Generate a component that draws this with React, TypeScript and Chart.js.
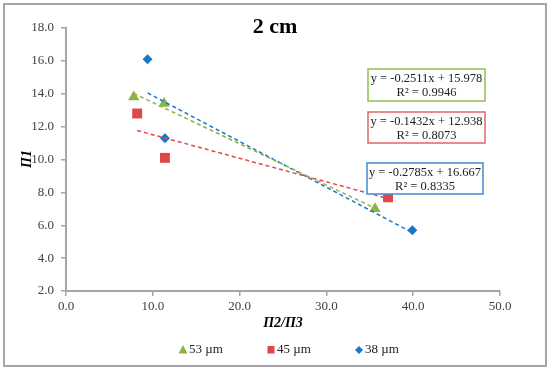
import React, { useEffect, useRef } from "react";
import { Chart, registerables } from "chart.js";

Chart.register(...registerables);

const seriesNames = ["53 µm", "45 µm", "38 µm"];
const x53 = [7.8, 11.3, 35.6];
const y53 = [13.8, 13.4, 7.0];
const x45 = [8.2, 11.4, 37.1];
const y45 = [12.8, 10.1, 7.7];
const x38 = [9.4, 11.4, 39.9];
const y38 = [16.1, 11.3, 5.7];
const slopes = [-0.2511, -0.1432, -0.2785];
const intercepts = [15.978, 12.938, 16.667];
const eqLabels = ["y = -0.2511x + 15.978", "y = -0.1432x + 12.938", "y = -0.2785x + 16.667"];
const r2Labels = ["R² = 0.9946", "R² = 0.8073", "R² = 0.8335"];
const xTicks = [0, 10, 20, 30, 40, 50];
const yTicks = [2, 4, 6, 8, 10, 12, 14, 16, 18];

const colors = ["#8ab545", "#e04848", "#1c75c8"];
const boxColors = ["#92c050", "#e06666", "#3c8dd4"];
const pointStyles = ["triangle", "rect", "rectRot"];
const radii = [6.5, 7, 5];

const SERIF = "'Liberation Serif', 'DejaVu Serif', serif";

export default function App() {
  const ref = useRef<HTMLCanvasElement | null>(null);
  useEffect(() => {
    const xs = [x53, x45, x38];
    const ys = [y53, y45, y38];
    const scatterSets = xs.map((xv, i) => ({
      type: "scatter" as const,
      label: seriesNames[i],
      data: xv.map((x, j) => ({ x, y: ys[i][j] })),
      pointStyle: pointStyles[i],
      pointRadius: radii[i],
      pointHoverRadius: radii[i],
      backgroundColor: colors[i],
      borderColor: colors[i],
      borderWidth: 0,
      order: 2,
    }));
    const trendSets = xs.map((xv, i) => {
      const lo = Math.min(...xv);
      const hi = Math.max(...xv);
      return {
        type: "line" as const,
        label: "trend" + i,
        data: [lo, hi].map((x) => ({ x, y: slopes[i] * x + intercepts[i] })),
        borderColor: colors[i],
        borderWidth: 1.5,
        borderDash: [4, 3],
        pointRadius: 0,
        fill: false,
        order: 1,
      };
    });

    const overlay = {
      id: "overlay",
      afterDraw(chart: any) {
        const ctx = chart.ctx;
        ctx.save();
        ctx.strokeStyle = "#a6a6a6";
        ctx.lineWidth = 2;
        ctx.strokeRect(4, 4, 542, 362);
        ctx.fillStyle = "#000";
        ctx.font = `bold 22px ${SERIF}`;
        ctx.textAlign = "center";
        ctx.textBaseline = "middle";
        ctx.fillText("2 cm", 275, 27);
        ctx.font = `italic bold 14px ${SERIF}`;
        ctx.fillText("Π2/Π3", 283, 323);
        ctx.save();
        ctx.translate(27, 159);
        ctx.rotate(-Math.PI / 2);
        ctx.fillText("Π1", 0, 0);
        ctx.restore();
        const boxes = [
          [368, 69, 117, 32],
          [368, 112, 117, 31],
          [367, 163, 116, 31],
        ];
        ctx.font = `12.5px ${SERIF}`;
        boxes.forEach((b, i) => {
          ctx.fillStyle = "#ffffff";
          ctx.fillRect(b[0], b[1], b[2], b[3]);
          ctx.strokeStyle = boxColors[i];
          ctx.lineWidth = 1.5;
          ctx.strokeRect(b[0], b[1], b[2], b[3]);
          ctx.fillStyle = "#222";
          ctx.fillText(eqLabels[i], b[0] + b[2] / 2, b[1] + 10);
          ctx.fillText(r2Labels[i], b[0] + b[2] / 2, b[1] + 23.5);
        });
        const legX = [183, 271, 359];
        const ly = 350;
        ctx.font = `13px ${SERIF}`;
        ctx.textAlign = "left";
        legX.forEach((lx, i) => {
          ctx.fillStyle = colors[i];
          ctx.beginPath();
          if (i === 0) {
            ctx.moveTo(lx, ly - 5);
            ctx.lineTo(lx + 4.5, ly + 3.5);
            ctx.lineTo(lx - 4.5, ly + 3.5);
            ctx.closePath();
          } else if (i === 1) {
            ctx.rect(lx - 3.5, ly - 4, 7, 7.5);
          } else {
            ctx.moveTo(lx, ly - 4);
            ctx.lineTo(lx + 4, ly);
            ctx.lineTo(lx, ly + 4);
            ctx.lineTo(lx - 4, ly);
            ctx.closePath();
          }
          ctx.fill();
          ctx.fillStyle = "#222";
          ctx.fillText(seriesNames[i], lx + 6, ly);
        });
        ctx.restore();
      },
    };

    const chart = new Chart(ref.current as HTMLCanvasElement, {
      type: "scatter",
      data: { datasets: [...trendSets, ...scatterSets] as any },
      options: {
        animation: false,
        responsive: false,
        layout: { padding: { left: 0, right: 50, top: 28, bottom: 0 } },
        plugins: { legend: { display: false }, title: { display: false }, tooltip: { enabled: false } },
        scales: {
          x: {
            type: "linear",
            min: xTicks[0],
            max: xTicks[xTicks.length - 1],
            afterBuildTicks: (s: any) => {
              s.ticks = xTicks.map((v) => ({ value: v }));
            },
            afterFit: (s: any) => {
              s.height = 81;
            },
            grid: { display: true, drawOnChartArea: false, tickLength: 5, color: "#a6a6a6", lineWidth: 1.5 },
            border: { display: true, color: "#a6a6a6", width: 2 },
            ticks: {
              padding: 3,
              color: "#404040",
              font: { family: SERIF, size: 13 },
              callback: (v: any) => Number(v).toFixed(1),
              maxRotation: 0,
            },
          },
          y: {
            type: "linear",
            min: yTicks[0],
            max: yTicks[yTicks.length - 1],
            afterBuildTicks: (s: any) => {
              s.ticks = yTicks.map((v) => ({ value: v }));
            },
            afterFit: (s: any) => {
              s.width = 66;
            },
            grid: { display: true, drawOnChartArea: false, tickLength: 5, color: "#a6a6a6", lineWidth: 1.5 },
            border: { display: true, color: "#a6a6a6", width: 2 },
            ticks: {
              padding: 7,
              color: "#404040",
              font: { family: SERIF, size: 13 },
              callback: (v: any) => Number(v).toFixed(1),
            },
          },
        },
      },
      plugins: [overlay],
    } as any);
    return () => chart.destroy();
  }, []);

  return (
    <div style={{ position: "absolute", left: 0, top: 0, width: 550, height: 372, background: "#fff" }}>
      <canvas ref={ref} width={550} height={372} style={{ width: 550, height: 372 }} />
    </div>
  );
}
